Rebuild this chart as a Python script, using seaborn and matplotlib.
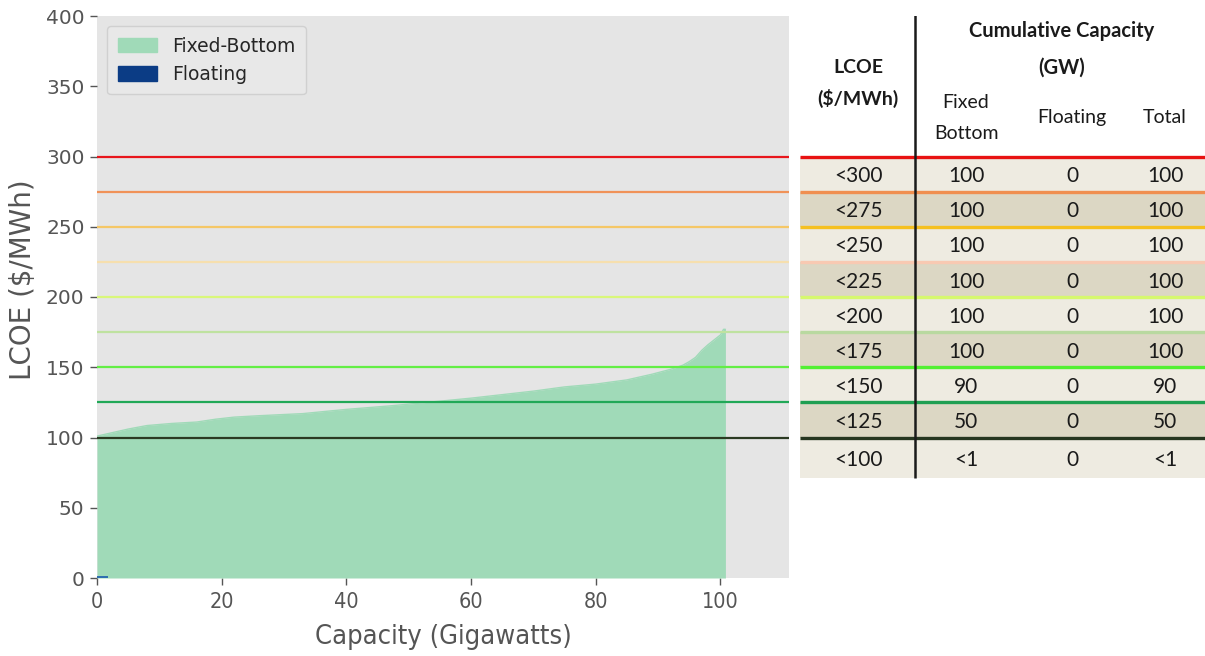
import matplotlib
matplotlib.use("Agg")
import matplotlib.pyplot as plt
import seaborn as sns
from matplotlib.patches import Patch

# Supply curve: cumulative capacity (GW) against LCOE ($/MWh)
fixed_capacity = [0, 2, 5, 8, 12, 16, 19, 22, 26, 33, 40, 47, 53, 60, 65, 70,
                  75, 80, 85, 89, 92, 94, 95, 96, 97, 98, 99, 100, 100.5, 100.8]
fixed_lcoe = [101, 103, 106, 108.5, 110, 111, 113, 114.5, 115.5, 117, 120,
              122.5, 125, 128, 130.5, 133, 136, 138, 141, 145, 148.5, 151.5,
              154, 157, 162, 166, 169.5, 173, 177, 177]
floating_capacity = [0, 1.8]
floating_lcoe = [1.2, 1.2]

# LCOE thresholds and the cumulative capacity below each one
thresholds = [300, 275, 250, 225, 200, 175, 150, 125, 100]
row_labels = ["<300", "<275", "<250", "<225", "<200", "<175", "<150", "<125", "<100"]
fixed_gw = ["100", "100", "100", "100", "100", "100", "90", "50", "<1"]
floating_gw = ["0", "0", "0", "0", "0", "0", "0", "0", "0"]
total_gw = ["100", "100", "100", "100", "100", "100", "90", "50", "<1"]

line_colors = ["#e8161c", "#f09258", "#f5c766", "#f6dfae", "#d9f77a",
               "#bfe2a0", "#63ee45", "#21a857", "#2b3a22"]
border_colors = ["#e81212", "#f08f50", "#f5c020", "#f8c9b2", "#d6f86e",
                 "#b9d9a0", "#52f032", "#1f9f52", "#263620"]
row_fills = ["#eeebe1", "#dcd7c4"]

FIXED_COLOR = "#a0dab8"
FLOAT_COLOR = "#0b3c85"
TEXT_GRAY = "#555555"

sns.set_style("white")
plt.rcParams["font.family"] = ["DejaVu Sans"]

fig = plt.figure(figsize=(12.05, 6.56), dpi=100)
W, H = 1205, 656

# ---- supply curve chart ----
ax = fig.add_axes([97 / W, 78 / H, 692 / W, 562 / H])
ax.set_facecolor("#e5e5e5")
for s in ax.spines.values():
    s.set_visible(False)

ax.fill_between(fixed_capacity, fixed_lcoe, 0, color=FIXED_COLOR, lw=0, zorder=1)
sns.lineplot(x=fixed_capacity, y=fixed_lcoe, ax=ax, color=FIXED_COLOR, lw=1,
             zorder=1, estimator=None, sort=False)
ax.fill_between(floating_capacity, floating_lcoe, 0, color="#2f6fb0", lw=0,
                zorder=3)

for t, c in zip(thresholds, line_colors):
    ax.axhline(t, color=c, lw=1.6, zorder=2)

ax.set_xlim(0, 111)
ax.set_ylim(0, 400)
ax.set_xticks([0, 20, 40, 60, 80, 100])
ax.set_yticks([0, 50, 100, 150, 200, 250, 300, 350, 400])
ax.tick_params(axis="both", direction="out", length=5, width=1,
               colors=TEXT_GRAY, bottom=True, left=True)
ax.tick_params(axis="y", labelsize=14.5, pad=4)
ax.tick_params(axis="x", labelsize=15.5, pad=5)
for lbl in ax.get_xticklabels():
    lbl.set_fontstretch("condensed")
ax.set_xlabel("Capacity (Gigawatts)", fontsize=19.5, color=TEXT_GRAY,
              labelpad=9, fontstretch="condensed")
ax.set_ylabel("LCOE ($/MWh)", fontsize=20, color=TEXT_GRAY)
ax.yaxis.set_label_coords(-0.086, 0.53)

handles = [Patch(facecolor=FIXED_COLOR, edgecolor=FIXED_COLOR, label="Fixed-Bottom"),
           Patch(facecolor=FLOAT_COLOR, edgecolor=FLOAT_COLOR, label="Floating")]
leg = ax.legend(handles=handles, loc="upper left", fontsize=13.5,
                frameon=True, facecolor="#e8e8e8", edgecolor="#d0d0d0",
                framealpha=1, handlelength=2.1, handleheight=0.8,
                borderaxespad=0.55, labelspacing=0.5, borderpad=0.55)
for txt in leg.get_texts():
    txt.set_color("#262626")

# ---- cumulative capacity table, sharing the LCOE scale ----
tab = fig.add_axes([800 / W, 78 / H, 405 / W, 562 / H])
tab.set_xlim(0, 405)
tab.set_ylim(0, 400)
tab.axis("off")

table_bottom = 71.4
col_x = [58, 166, 272, 365]
divider_x = 115
tfont = dict(family=["Lato", "DejaVu Sans"], color="#1a1a1a")

bottoms = thresholds[1:] + [table_bottom]
for i, (top, bot) in enumerate(zip(thresholds, bottoms)):
    tab.fill_between([0, 405], bot, top, color=row_fills[i % 2], lw=0, zorder=1)
    mid = (top + bot) / 2
    for x, val in zip(col_x, [row_labels[i], fixed_gw[i], floating_gw[i], total_gw[i]]):
        tab.text(x, mid - 1.5, val, ha="center", va="center", fontsize=15, **tfont)

for t, c in zip(thresholds, border_colors):
    tab.hlines(t, 0, 405, color=c, lw=2.4, zorder=3)

tab.vlines(divider_x, table_bottom, 402, color="#1a1a1a", lw=1.8, zorder=4)

tab.text(col_x[0], 363, "LCOE", ha="center", va="center", fontsize=14,
         fontweight="bold", **tfont)
tab.text(col_x[0], 341, "($/MWh)", ha="center", va="center", fontsize=14,
         fontweight="bold", **tfont)
tab.text(262, 389, "Cumulative Capacity", ha="center", va="center", fontsize=14.5,
         fontweight="bold", **tfont)
tab.text(262, 363, "(GW)", ha="center", va="center", fontsize=14.5,
         fontweight="bold", **tfont)
tab.text(col_x[1], 338.5, "Fixed", ha="center", va="center", fontsize=14, **tfont)
tab.text(col_x[1], 316.5, "Bottom", ha="center", va="center", fontsize=14, **tfont)
tab.text(col_x[2], 327.5, "Floating", ha="center", va="center", fontsize=14, **tfont)
tab.text(col_x[3], 327.5, "Total", ha="center", va="center", fontsize=14, **tfont)

fig.savefig("out.png", dpi=100, facecolor="white")
